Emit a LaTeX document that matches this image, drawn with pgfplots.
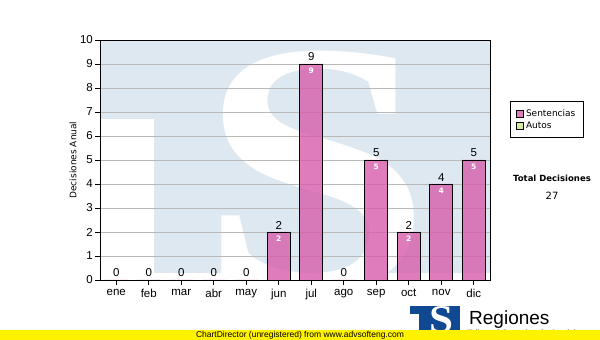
\documentclass[border=0pt]{standalone}
\usepackage{pgfplots}
\pgfplotsset{compat=1.18}
\usepackage{graphicx}
\usepackage{fontspec}
\setmainfont{Liberation Sans}
\newfontfamily\dv{DejaVu Sans}
\newfontfamily\lserif{Liberation Serif}
\definecolor{wmblue}{RGB}{222,232,241}
\definecolor{barpink}{RGB}{214,92,172}
\definecolor{autogreen}{RGB}{214,234,160}
\definecolor{logoblue}{RGB}{16,72,145}
\definecolor{gridgray}{RGB}{185,185,185}
\begin{document}
\begin{tikzpicture}
\useasboundingbox (0pt,0pt) rectangle (600pt,340pt);
\fill[white] (0pt,0pt) rectangle (600pt,340pt);
\begin{axis}[
  at={(100pt,60pt)}, anchor=south west,
  scale only axis, width=390pt, height=240pt,
  xmin=-0.5, xmax=11.5, ymin=0, ymax=10,
  xtick={0,...,11},
  xticklabels={ene,feb,mar,abr,may,jun,jul,ago,sep,oct,nov,dic},
  ytick={0,...,10},
  ymajorgrids, grid style={gridgray, line width=0.9pt},
  axis line style={black, line width=0.9pt},
  tick align=outside, major tick length=5pt,
  tick style={black, line width=0.9pt},
  xtick pos=bottom, ytick pos=left,
  /pgf/number format/assume math mode=true,
  ticklabel style={font=\fontsize{11.5}{13}\selectfont},
  xticklabel style={inner sep=1pt, yshift=-3pt},
  yticklabel style={inner sep=2pt},
  ylabel={Decisiones Anual},
  ylabel style={at={(axis description cs:-0.069,0.5)}, anchor=center, font=\dv\fontsize{9}{11}\selectfont},
  legend style={at={(axis description cs:1.0513,0.746)}, anchor=north west,
    draw=black, line width=0.8pt, font=\dv\fontsize{9}{11}\selectfont,
    inner xsep=6pt, inner ysep=6pt, row sep=0pt, cells={anchor=west}},
  legend image code/.code={\draw[#1, line width=0.6pt] (0pt,-3.5pt) rectangle (7pt,3.5pt);},
  legend cell align=left,
  axis background/.style={fill=wmblue, path picture={
    \begin{scope}[shift={(path picture bounding box.south west)}]
      \fill[white] (0pt,0pt) rectangle (54pt,161pt);
      \fill[white] (0pt,0pt) rectangle (390pt,7pt);
      \node[text=white, inner sep=0pt, anchor=center] at (215.5pt,109pt)
        {\resizebox{232pt}{236pt}{\lserif\bfseries S}};
    \end{scope}}},
]
\addplot[ybar, bar width=23.3pt, bar shift=0pt, fill=barpink, fill opacity=0.8, draw=black, line width=0.9pt,
  nodes near coords, every node near coord/.append style={text=black, text opacity=1, anchor=south, inner sep=0pt, yshift=2.5pt, font=\fontsize{11.5}{13}\selectfont}]
  coordinates {(0,0) (1,0) (2,0) (3,0) (4,0) (5,2) (6,9) (7,0) (8,5) (9,2) (10,4) (11,5)};
\addlegendentry{Sentencias}
\addplot[ybar, bar width=23.3pt, bar shift=0pt, draw=none, fill=none, forget plot,
  nodes near coords, every node near coord/.append style={text=white, anchor=north, inner sep=0pt, yshift=-3.5pt, font=\dv\bfseries\fontsize{7.5}{8}\selectfont}]
  coordinates {(5,2) (6,9) (8,5) (9,2) (10,4) (11,5)};
\addlegendimage{fill=autogreen, draw=black}
\addlegendentry{Autos}
\end{axis}
\node[font=\dv\bfseries\fontsize{8.5}{10}\selectfont] at (552pt,162pt) {Total Decisiones};
\node[font=\dv\fontsize{10}{11}\selectfont] at (552pt,144pt) {27};
% logo
\fill[logoblue] (410pt,34pt) rectangle (460pt,8pt);
\fill[white] (410pt,26pt) rectangle (419pt,8pt);
\node[text=white, inner sep=0pt] at (441pt,20pt) {\resizebox{24pt}{26pt}{\lserif\bfseries S}};
\node[anchor=base west, inner sep=0pt, font=\fontsize{19}{22}\selectfont] at (469pt,15pt) {Regiones};
\node[anchor=base west, inner sep=0pt, font=\fontsize{9}{10}\selectfont] at (467pt,3pt) {Tribunal Superior de Justicia};
% footer
\fill[yellow] (0pt,0pt) rectangle (600pt,9.5pt);
\node[font=\fontsize{8.5}{10}\selectfont, inner sep=0pt] at (300pt,5pt) {ChartDirector (unregistered) from www.advsofteng.com};
\end{tikzpicture}
\end{document}
